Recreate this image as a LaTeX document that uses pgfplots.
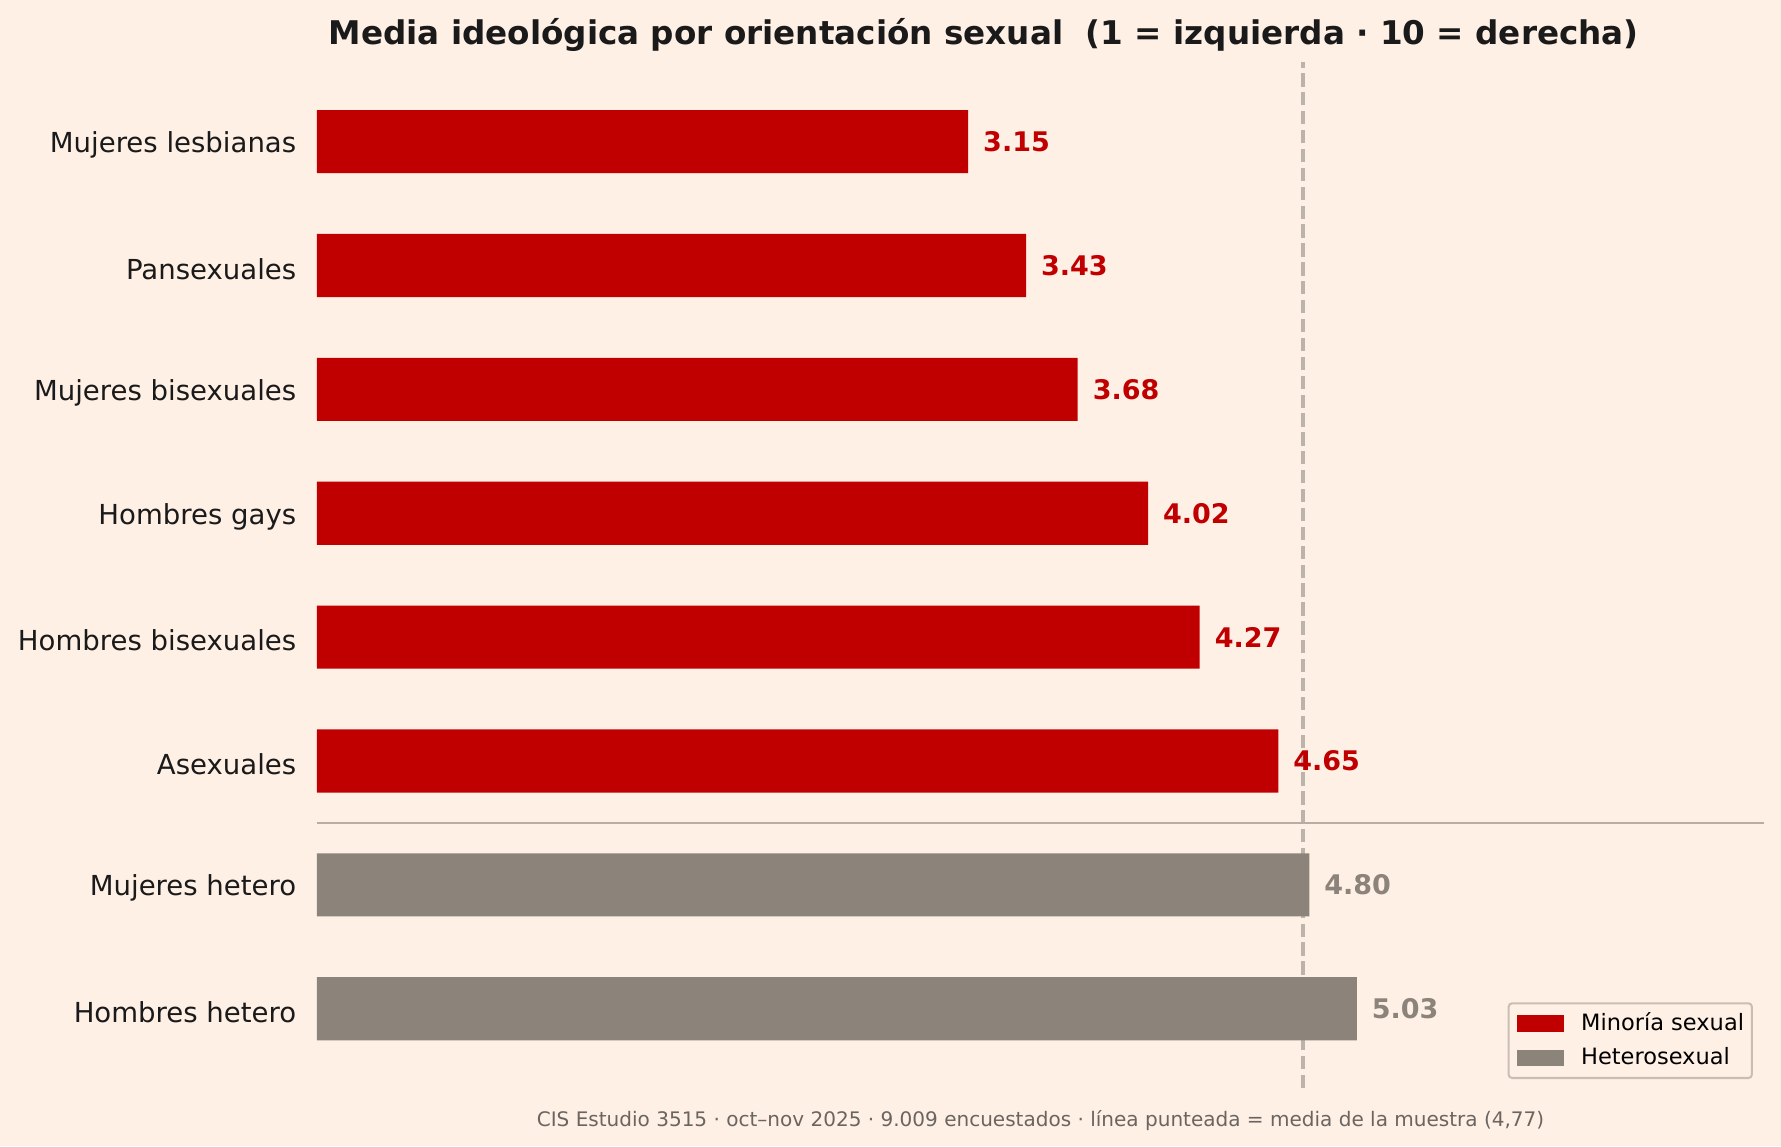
\documentclass[border=0pt]{standalone}
\usepackage{fontspec}
\setmainfont{DejaVu Sans}
\usepackage{pgfplots}
\pgfplotsset{compat=1.18}
\definecolor{bg}{HTML}{FFF0E6}
\definecolor{barred}{HTML}{C00000}
\definecolor{bargrey}{HTML}{8C837A}
\definecolor{dashc}{HTML}{BCB3AB}
\definecolor{sepc}{HTML}{B8ADA3}
\definecolor{txt}{HTML}{1A1A1A}
\definecolor{foot}{HTML}{6B6560}
\definecolor{legedge}{HTML}{C8BEB5}
\begin{document}
\begin{tikzpicture}
\path[use as bounding box, fill=bg] (-140.9pt,-25.8pt) rectangle (650.9pt,483.7pt);
\begin{axis}[
  at={(0pt,0pt)}, anchor=south west,
  scale only axis, width=643.4pt, height=456pt,
  xmin=0, xmax=7, ymin=-0.64, ymax=7.64,
  clip=false,
  axis line style={draw=none},
  xtick=\empty,
  ytick={0,1,2,3,4,5,6,7},
  yticklabels={Hombres hetero, Mujeres hetero, Asexuales, Hombres bisexuales, Hombres gays, Mujeres bisexuales, Pansexuales, Mujeres lesbianas},
  major tick length=0pt,
  yticklabel style={font=\fontsize{12.25}{14}\selectfont, text=txt, inner xsep=0pt, xshift=-9pt, yshift=-1.5pt},
  legend style={at={(1,0)}, anchor=south east, xshift=-5pt, yshift=4pt,
    draw=legedge, line width=0.9pt, rounded corners=1.5pt, fill=bg,
    font=\fontsize{10}{12}\selectfont, text=black, inner xsep=3.5pt, inner ysep=4.3pt,
    nodes={inner sep=0pt}, row sep=6pt},
  legend cell align=left,
]
\addplot[forget plot, dash pattern=on 5.9pt off 2.5pt, line width=1.5pt, color=dashc] coordinates {(4.77,-0.64) (4.77,7.64)};
\addplot[forget plot, line width=1pt, color=sepc] coordinates {(0,1.5) (7,1.5)};
\addplot[xbar, bar width=0.51, bar shift=0pt, fill=barred, draw=none,
  legend image code/.code={\fill[barred, sharp corners] (0pt,-3.7pt) rectangle (21pt,3.7pt); \path (28.7pt,0pt);},
  point meta=explicit symbolic, nodes near coords,
  nodes near coords style={anchor=west, inner sep=0pt, xshift=6.5pt, text=barred, font=\fontsize{12}{14}\selectfont\bfseries}]
  coordinates {(4.65,2)[4.65] (4.27,3)[4.27] (4.02,4)[4.02] (3.68,5)[3.68] (3.43,6)[3.43] (3.15,7)[3.15]};
\addlegendentry{Minoría sexual}
\addplot[xbar, bar width=0.51, bar shift=0pt, fill=bargrey, draw=none,
  legend image code/.code={\fill[bargrey, sharp corners] (0pt,-3.7pt) rectangle (21pt,3.7pt); \path (28.7pt,0pt);},
  point meta=explicit symbolic, nodes near coords,
  nodes near coords style={anchor=west, inner sep=0pt, xshift=6.5pt, text=bargrey, font=\fontsize{12}{14}\selectfont\bfseries}]
  coordinates {(5.03,0)[5.03] (4.80,1)[4.80]};
\addlegendentry{Heterosexual}
\end{axis}
\node[anchor=base, text=txt, font=\fontsize{14.5}{17}\selectfont\bfseries, inner sep=0pt] at (296.4pt,463.7pt) {Media ideológica por orientación sexual~ (1 = izquierda · 10 = derecha)};
\node[anchor=base, text=foot, font=\fontsize{8.9}{11}\selectfont, inner sep=0pt] at (321.7pt,-17.3pt) {CIS Estudio 3515 · oct–nov 2025 · 9.009 encuestados · línea punteada = media de la muestra (4,77)};
\end{tikzpicture}
\end{document}
